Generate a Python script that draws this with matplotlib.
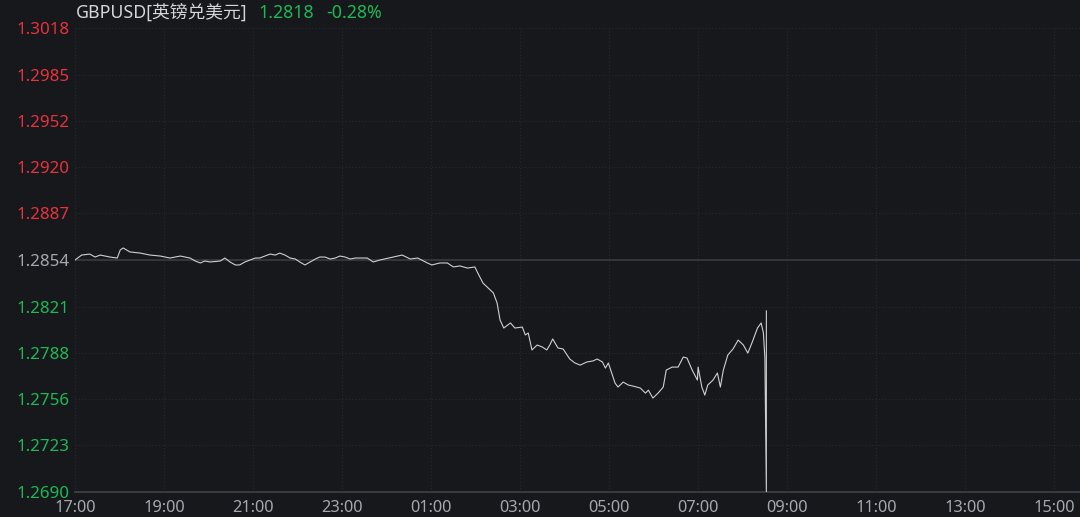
import matplotlib
matplotlib.use("Agg")
import matplotlib.pyplot as plt
import numpy as np

# minutes after 17:00 and GBPUSD quote
minutes = [0, 9, 20, 27, 34, 47, 57, 61, 65, 74, 88, 101, 115, 128, 142, 155, 162, 169, 175, 182,
           196, 202, 209, 216, 222, 229, 236, 243, 249, 256, 263, 270, 276, 283, 290, 297, 303, 310,
           317, 324, 330, 337, 344, 351, 357, 364, 371, 378, 384, 394, 402, 411, 429, 441, 452, 462,
           475, 481, 492, 502, 510, 519, 529, 539, 543, 550, 557, 564, 569, 573, 578, 587, 593, 603,
           607, 611, 616, 623, 630, 636, 640, 644, 651, 658, 667, 674, 681, 690, 698, 704, 711, 715,
           719, 728, 732, 739, 746, 752, 762, 769, 773, 779, 786, 793, 797, 805, 813, 820, 825, 832,
           839, 840, 845, 849, 853, 860, 866, 870, 874, 880, 887, 894, 901, 907, 913, 920, 925, 928,
           930, 932, 932]
prices = [1.28540, 1.28575, 1.28582, 1.28561, 1.28575, 1.28561, 1.28554, 1.28611, 1.28625, 1.28597,
          1.28589, 1.28575, 1.28568, 1.28554, 1.28568, 1.28554, 1.28533, 1.28519, 1.28533, 1.28526,
          1.28533, 1.28554, 1.28526, 1.28505, 1.28505, 1.28526, 1.28540, 1.28554, 1.28554, 1.28568,
          1.28582, 1.28575, 1.28589, 1.28575, 1.28554, 1.28547, 1.28526, 1.28505, 1.28526, 1.28547,
          1.28561, 1.28561, 1.28547, 1.28554, 1.28568, 1.28561, 1.28547, 1.28554, 1.28554, 1.28554,
          1.28526, 1.28540, 1.28561, 1.28575, 1.28547, 1.28554, 1.28519, 1.28505, 1.28519, 1.28519,
          1.28491, 1.28498, 1.28483, 1.28491, 1.28448, 1.28377, 1.28342, 1.28307, 1.28236, 1.28116,
          1.28059, 1.28095, 1.28059, 1.28066, 1.28010, 1.28024, 1.27904, 1.27939, 1.27925, 1.27904,
          1.27939, 1.27982, 1.27918, 1.27911, 1.27840, 1.27812, 1.27797, 1.27819, 1.27826, 1.27840,
          1.27819, 1.27776, 1.27812, 1.27670, 1.27642, 1.27677, 1.27656, 1.27649, 1.27635, 1.27599,
          1.27620, 1.27564, 1.27599, 1.27642, 1.27762, 1.27783, 1.27783, 1.27854, 1.27847, 1.27762,
          1.27691, 1.27783, 1.27642, 1.27585, 1.27656, 1.27691, 1.27741, 1.27642, 1.27762, 1.27868,
          1.27911, 1.27974, 1.27939, 1.27882, 1.27960, 1.28059, 1.28095, 1.28024, 1.27847, 1.26900,
          1.28180]

prev_close = 1.2854
y_ticks = [1.2690, 1.2723, 1.2756, 1.2788, 1.2821, 1.2854, 1.2887, 1.2920, 1.2952, 1.2985, 1.3018]
x_labels = ["17:00", "19:00", "21:00", "23:00", "01:00", "03:00", "05:00", "07:00",
            "09:00", "11:00", "13:00", "15:00"]

bg = "#16181c"
red = "#e8323c"
green = "#1db954"
plt.rcParams['font.family'] = ['Noto Sans', 'Noto Sans CJK SC', 'DejaVu Sans']

fig = plt.figure(figsize=(10.8, 5.17), dpi=100, facecolor=bg)
ax = fig.add_axes([75 / 1080, 25 / 517, 1 - 75 / 1080, 464 / 517])
ax.set_facecolor(bg)

hours = np.array(minutes) / 60.0
ax.plot(hours, prices, color="#cfcfcf", lw=0.8, zorder=3)
ax.axhline(prev_close, color="#38393e", lw=1.3, zorder=2)

ax.set_xlim(0, 22.58)
ax.set_ylim(y_ticks[0], y_ticks[-1])
ax.set_xticks(np.arange(0, 24, 2))
ax.set_xticklabels(x_labels)
ax.set_yticks(y_ticks)
ax.set_yticklabels(["%.4f" % v for v in y_ticks])
for lab, v in zip(ax.get_yticklabels(), y_ticks):
    if v > prev_close + 1e-6:
        lab.set_color(red)
    elif v < prev_close - 1e-6:
        lab.set_color(green)
    else:
        lab.set_color("#a4a8ae")
ax.tick_params(axis='y', length=0, pad=4, labelsize=12.2)
ax.tick_params(axis='x', length=0, pad=6, labelsize=11.8, colors="#a4a8ae")

ax.grid(True, color="#26292e", lw=0.8, ls=(0, (1, 2)))
for s in ["top", "right", "left"]:
    ax.spines[s].set_visible(False)
ax.spines["bottom"].set_color("#3a3c42")
ax.spines["bottom"].set_linewidth(1.4)

fig.text(76 / 1080, 1 - 13 / 517, "GBPUSD[英镑兑美元]", color="#d4d6da", fontsize=12.8, va="center")
fig.text(258 / 1080, 1 - 13 / 517, "1.2818", color=green, fontsize=12.8, va="center")
fig.text(326 / 1080, 1 - 13 / 517, "-0.28%", color=green, fontsize=12.8, va="center")

fig.savefig("out.png", dpi=100, facecolor=bg)
